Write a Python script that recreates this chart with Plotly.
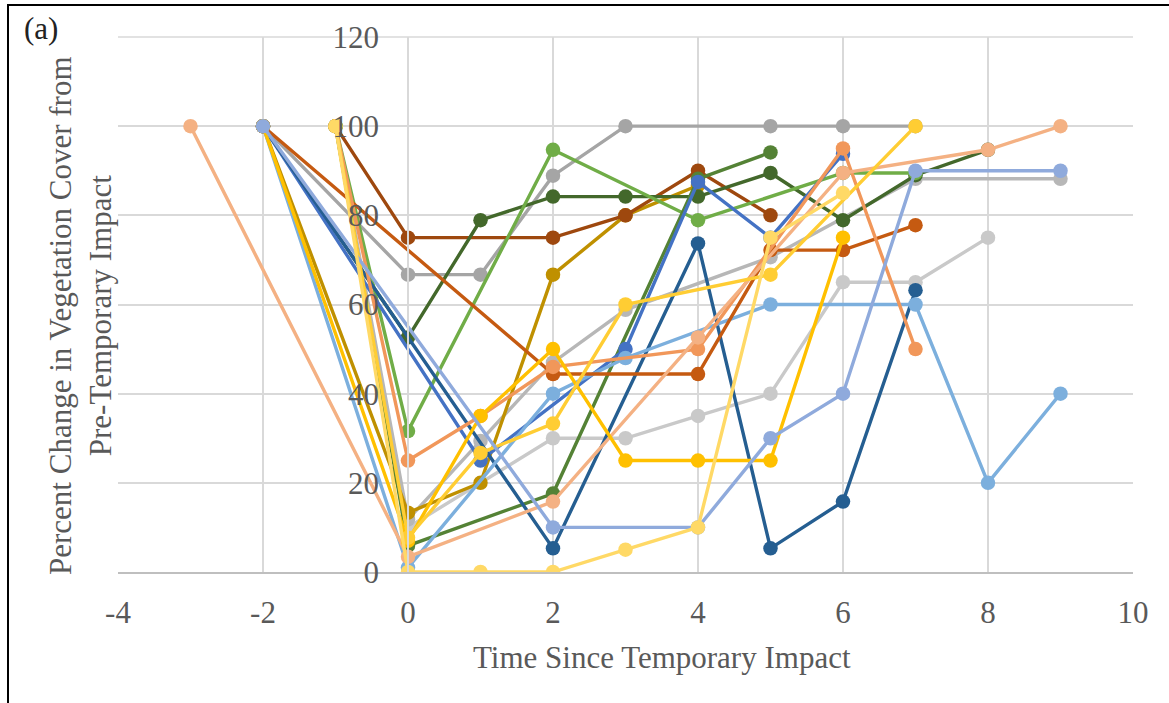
import plotly.graph_objects as go

# ---- data (x = years since temporary impact, y = % of pre-impact cover) ----
peach_x = [-3, 0, 2, 4, 6, 8, 9]
peach_y = [100, 3.4, 15.8, 52.6, 89.5, 94.7, 100]

periwinkle_x = [-2, 2, 4, 5, 6, 7, 9]
periwinkle_y = [100, 10, 10, 30, 40, 90, 90]

lightblue_x = [-2, 0, 2, 3, 5, 7, 8, 9]
lightblue_y = [100, 1, 40, 48, 60, 60, 20, 40]

navy_x = [-2, 2, 4, 5, 6, 7]
navy_y = [100, 5.3, 73.7, 5.3, 15.8, 63.2]

blue_x = [-2, 1, 3, 4, 5, 6]
blue_y = [100, 25, 50, 87.5, 75, 93.8]

darkorange_x = [-2, 2, 4, 5, 6, 7]
darkorange_y = [100, 44.4, 44.4, 72.2, 72.2, 77.8]

brown_x = [-1, 0, 2, 3, 4, 5]
brown_y = [100, 75, 75, 80, 90, 80]

gray_x = [-2, 0, 1, 2, 3, 5, 6, 7]
gray_y = [100, 66.7, 66.7, 88.9, 100, 100, 100, 100]

darkgreen_x = [-2, 0, 1, 2, 3, 4, 5, 6, 7, 8]
darkgreen_y = [100, 52.6, 78.9, 84.2, 84.2, 84.2, 89.5, 78.9, 89.0, 94.7]

midgreen_x = [-1, 0, 2, 4, 5]
midgreen_y = [100, 5.9, 17.6, 88.2, 94.1]

lightgreen_x = [-1, 0, 2, 4, 6, 7]
lightgreen_y = [100, 31.6, 94.7, 78.9, 89.5, 89.5]

darkgold_x = [-2, 0, 1, 2, 3, 4]
darkgold_y = [100, 13.3, 20, 66.7, 80, 86.7]

orange_x = [-1, 0, 1, 2, 4, 6, 7]
orange_y = [100, 25, 35, 46, 50, 95, 50]

gold_x = [-2, 0, 1, 2, 3, 4, 5, 6]
gold_y = [100, 7, 35, 50, 25, 25, 25, 75]

yellow_x = [-1, 0, 1, 2, 3, 5, 7]
yellow_y = [100, 7.7, 26.7, 33.3, 60, 66.7, 100]

paleyellow_x = [-1, 0, 1, 2, 3, 4, 5, 6]
paleyellow_y = [100, 0, 0, 0, 5, 10, 75, 85]

grayB_x = [-1, 0, 1, 2, 3, 5, 7, 9]
grayB_y = [100, 11.8, 29.4, 47, 58.8, 70.6, 88.2, 88.2]

lightgray_x = [-1, 0, 2, 3, 4, 5, 6, 7, 8]
lightgray_y = [100, 10, 30, 30, 35, 40, 65, 65, 75]

x_ticks = [-4, -2, 0, 2, 4, 6, 8, 10]
x_tick_labels = ["-4", "-2", "0", "2", "4", "6", "8", "10"]
y_ticks = [0, 20, 40, 60, 80, 100, 120]

series = [
    (lightgray_x, lightgray_y, "#C9C9C9"),
    (grayB_x, grayB_y, "#B7B7B7"),
    (gray_x, gray_y, "#A5A5A5"),
    (darkgold_x, darkgold_y, "#BF9000"),
    (brown_x, brown_y, "#9E480E"),
    (darkgreen_x, darkgreen_y, "#43682B"),
    (lightgreen_x, lightgreen_y, "#70AD47"),
    (midgreen_x, midgreen_y, "#548235"),
    (blue_x, blue_y, "#4472C4"),
    (navy_x, navy_y, "#255E91"),
    (lightblue_x, lightblue_y, "#7CAFDD"),
    (darkorange_x, darkorange_y, "#C55A11"),
    (orange_x, orange_y, "#F1975A"),
    (peach_x, peach_y, "#F4B183"),
    (gold_x, gold_y, "#FFC000"),
    (yellow_x, yellow_y, "#FFCD33"),
    (periwinkle_x, periwinkle_y, "#8FAADC"),
    (paleyellow_x, paleyellow_y, "#FFD966"),
]

fig = go.Figure()
for xs, ys, col in series:
    fig.add_trace(go.Scatter(
        x=xs, y=ys, mode="lines+markers",
        line=dict(color=col, width=3.4),
        marker=dict(color=col, size=14.5),
        showlegend=False, hoverinfo="skip"))

FONT = "Liberation Serif"
FS = 31
L, R, T, B = 118, 36, 37, 131
W, H = 1169, 703
pw, ph = W - L - R, H - T - B

def px_x(p):
    return (p - L) / pw

def px_y(p):
    return (H - B - p) / ph

fig.update_layout(
    width=W, height=H,
    margin=dict(l=L, r=R, t=T, b=B),
    paper_bgcolor="white", plot_bgcolor="white",
    font=dict(family=FONT, size=FS, color="#595959"),
    xaxis=dict(range=[-4, 10], tickvals=x_ticks, ticktext=x_tick_labels,
               showgrid=True, gridcolor="#D9D9D9", gridwidth=1.5,
               zeroline=False, showline=True, linecolor="#BFBFBF", linewidth=1.5,
               ticks="", ticklabelstandoff=12,
               tickfont=dict(family=FONT, size=FS, color="#595959")),
    yaxis=dict(range=[0, 120], tickvals=y_ticks, anchor="free",
               position=4 / 14,
               showgrid=True, gridcolor="#D9D9D9", gridwidth=1.5,
               zeroline=False, showline=True, linecolor="#D9D9D9", linewidth=1.5,
               ticks="", ticklabelstandoff=22,
               tickfont=dict(family=FONT, size=FS, color="#595959")),
    annotations=[
        dict(text="Time Since Temporary Impact", xref="paper", yref="paper",
             x=px_x(662), y=px_y(657), xanchor="center", yanchor="middle",
             showarrow=False,
             font=dict(family=FONT, size=FS, color="#595959")),
        dict(text="Percent Change in Vegetation Cover from<br>Pre-Temporary Impact",
             xref="paper", yref="paper", x=px_x(80), y=px_y(316),
             xanchor="center", yanchor="middle",
             showarrow=False, textangle=-90,
             font=dict(family=FONT, size=FS, color="#595959")),
        dict(text="(a)", xref="paper", yref="paper", x=px_x(41), y=px_y(28),
             xanchor="center", yanchor="middle",
             showarrow=False, font=dict(family=FONT, size=FS, color="#222222")),
    ],
    shapes=[
        dict(type="line", xref="paper", yref="paper", x0=px_x(8), x1=px_x(8),
             y0=px_y(703), y1=px_y(4), line=dict(color="black", width=2)),
        dict(type="line", xref="paper", yref="paper", x0=px_x(7), x1=px_x(1169),
             y0=px_y(5), y1=px_y(5), line=dict(color="black", width=2)),
        dict(type="line", xref="paper", yref="paper", x0=0, x1=1, y0=1, y1=1,
             line=dict(color="#D9D9D9", width=1.5), layer="below"),
    ],
)

fig.write_html("out.html")
